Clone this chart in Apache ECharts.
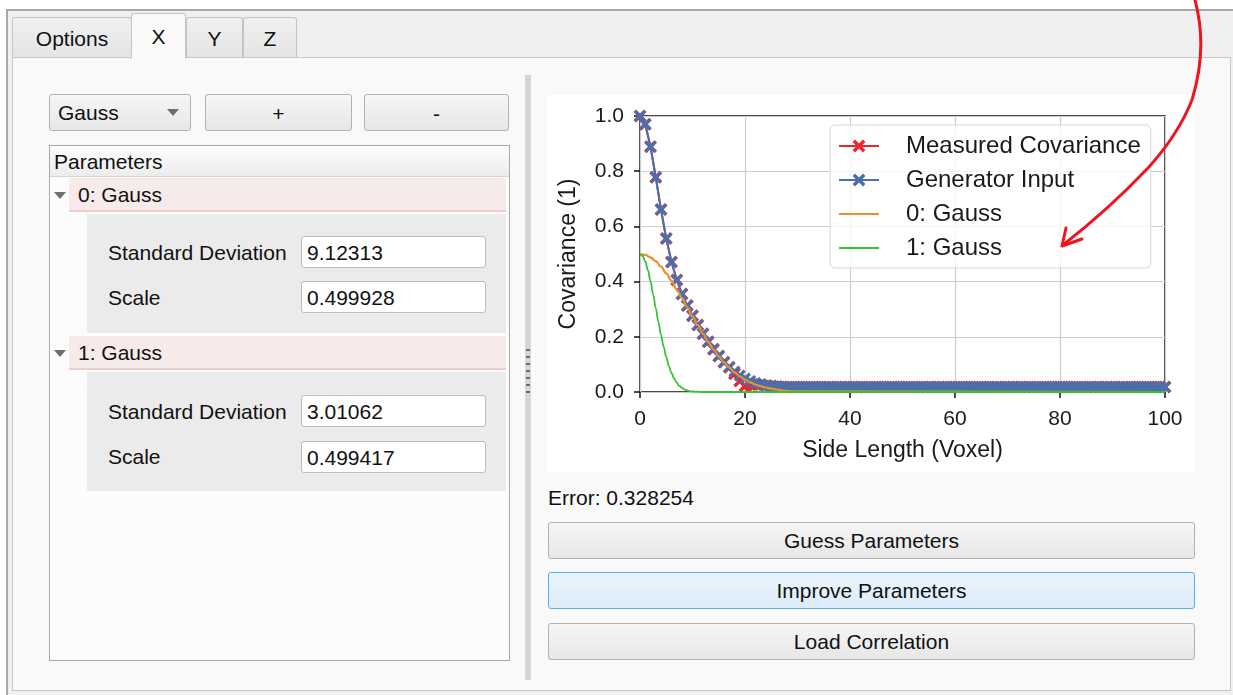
<!DOCTYPE html>
<html>
<head>
<meta charset="utf-8">
<script src="https://cdn.jsdelivr.net/npm/echarts@6.0.0/dist/echarts.min.js"></script>
<style>
  html, body { margin: 0; padding: 0; background: #fff; width: 1233px; height: 695px; overflow: hidden; }
  body { font-family: "Liberation Sans", Arial, sans-serif; font-size: 21px; color: #111; position: relative; }
  .abs { position: absolute; box-sizing: border-box; }
  .frame { left: 6px; top: 9px; width: 1240px; height: 700px; border-left: 2px solid #a8a8a8; border-top: 2px solid #a8a8a8; background: #f0f0f0; }
  .tab { top: 17px; height: 41px; border: 1px solid #c4c4c4; border-bottom: none; border-radius: 3px 3px 0 0;
         background: linear-gradient(#f0f0f0, #e4e4e4); text-align: center; line-height: 42px; }
  .tab.sel { top: 13px; height: 46px; background: #fafafa; line-height: 46px; z-index: 2; }
  .pane { left: 12px; top: 57px; width: 1219px; height: 634px; border: 1px solid #c8c8c8; background: #f9f9f9; }
  .btn { border: 1px solid #b2b2b2; border-radius: 3px; background: linear-gradient(#f6f6f6, #e7e7e7); text-align: center; }
  .tree { left: 49px; top: 145px; width: 461px; height: 516px; border: 1px solid #a9a9a9; background: #fcfcfc; }
  .hdr { left: 50px; top: 146px; width: 459px; height: 31px; background: linear-gradient(#fdfdfd, #ececec); border-bottom: 1px solid #d4d4d4; line-height: 31px; padding-left: 4px; }
  .row { left: 69px; width: 437px; height: 34px; background: #f6eaea; border-bottom: 2px solid #f3cccc; line-height: 33px; padding-left: 9px; }
  .tri { width: 0; height: 0; border-left: 6px solid transparent; border-right: 6px solid transparent; border-top: 7px solid #6e6e6e; }
  .sub { left: 87px; width: 419px; height: 119px; background: #ebebeb; }
  .lbl { left: 108px; height: 30px; line-height: 30px; }
  .inp { left: 301px; width: 185px; height: 32px; border: 1px solid #bcbcbc; border-radius: 3px; background: #fff; line-height: 31px; padding-left: 5px; }
  .split { left: 525px; top: 75px; width: 6px; height: 605px; background: #d6d6d6; }
  .grip { left: 526px; width: 4px; height: 2px; background: #6a6a6a; }
  #chart { position: absolute; left: 547px; top: 95px; width: 648px; height: 377px; background: #fff; }
  .big { left: 548px; width: 647px; height: 37px; line-height: 36px; }
  .focus { border-color: #58aef0; background: linear-gradient(#eaf4fc, #dcecf9); }
</style>
</head>
<body>
<div class="abs frame"></div>
<div class="abs tab" style="left:12px;width:120px;">Options</div>
<div class="abs tab sel" style="left:131px;width:55px;">X</div>
<div class="abs tab" style="left:186px;width:57px;">Y</div>
<div class="abs tab" style="left:243px;width:54px;">Z</div>
<div class="abs pane"></div>

<div class="abs btn" style="left:49px;top:94px;width:142px;height:37px;line-height:36px;text-align:left;padding-left:8px;">Gauss</div>
<div class="abs tri" style="left:167px;top:109px;"></div>
<div class="abs btn" style="left:205px;top:94px;width:147px;height:37px;line-height:38px;">+</div>
<div class="abs btn" style="left:364px;top:94px;width:145px;height:37px;line-height:38px;">-</div>

<div class="abs tree"></div>
<div class="abs hdr">Parameters</div>
<div class="abs tri" style="left:54px;top:192px;"></div>
<div class="abs row" style="top:178px;">0: Gauss</div>
<div class="abs sub" style="top:214px;"></div>
<div class="abs lbl" style="top:238px;">Standard Deviation</div>
<div class="abs inp" style="top:236px;">9.12313</div>
<div class="abs lbl" style="top:283px;">Scale</div>
<div class="abs inp" style="top:281px;">0.499928</div>
<div class="abs tri" style="left:54px;top:350px;"></div>
<div class="abs row" style="top:336px;">1: Gauss</div>
<div class="abs sub" style="top:372px;"></div>
<div class="abs lbl" style="top:397px;">Standard Deviation</div>
<div class="abs inp" style="top:395px;">3.01062</div>
<div class="abs lbl" style="top:442px;">Scale</div>
<div class="abs inp" style="top:441px;">0.499417</div>

<div class="abs split"></div>
<div class="abs grip" style="top:349px;"></div>
<div class="abs grip" style="top:356px;"></div>
<div class="abs grip" style="top:363px;"></div>
<div class="abs grip" style="top:370px;"></div>
<div class="abs grip" style="top:377px;"></div>
<div class="abs grip" style="top:384px;"></div>
<div class="abs grip" style="top:391px;"></div>

<div id="chart"></div>

<div class="abs" style="left:548px;top:484px;line-height:28px;">Error: 0.328254</div>
<div class="abs btn big" style="top:522px;">Guess Parameters</div>
<div class="abs btn big focus" style="top:572px;">Improve Parameters</div>
<div class="abs btn big" style="top:623px;">Load Correlation</div>

<svg class="abs" style="left:0;top:0;" width="1233" height="695">
  <path d="M1195,0 Q1208,48 1192,100 Q1178,135 1148,168 Q1108,210 1063,245" fill="none" stroke="#f0141e" stroke-width="3" stroke-linecap="round"/>
  <path d="M1066,228 L1062,246 L1082,239" fill="none" stroke="#f0141e" stroke-width="3" stroke-linecap="round" stroke-linejoin="round"/>
</svg>

<script>
(() => {
  // measured covariance, one value per voxel 0..100
  const measured = [
    1.000, 0.970, 0.889, 0.778, 0.661, 0.556, 0.471, 0.406, 0.355, 0.313,
    0.276, 0.243, 0.211, 0.182, 0.155, 0.130, 0.108, 0.090, 0.066, 0.040,
    0.022, 0.026, 0.028, 0.027, 0.024, 0.022, 0.020, 0.019, 0.018, 0.018,
    0.018, 0.018, 0.018, 0.018, 0.018, 0.018, 0.018, 0.018, 0.018, 0.018,
    0.018, 0.018, 0.018, 0.018, 0.018, 0.018, 0.018, 0.018, 0.018, 0.018,
    0.018, 0.018, 0.018, 0.018, 0.018, 0.018, 0.018, 0.018, 0.018, 0.018,
    0.018, 0.018, 0.018, 0.018, 0.018, 0.018, 0.018, 0.018, 0.018, 0.018,
    0.018, 0.018, 0.018, 0.018, 0.018, 0.018, 0.018, 0.018, 0.018, 0.018,
    0.018, 0.018, 0.018, 0.018, 0.018, 0.018, 0.018, 0.018, 0.018, 0.018,
    0.018, 0.018, 0.018, 0.018, 0.018, 0.018, 0.018, 0.018, 0.018, 0.018,
    0.018
  ];
  // generator input, one value per voxel 0..100
  const generator = [
    1.000, 0.970, 0.889, 0.778, 0.661, 0.556, 0.471, 0.406, 0.355, 0.313,
    0.276, 0.243, 0.211, 0.182, 0.155, 0.130, 0.108, 0.090, 0.074, 0.060,
    0.049, 0.040, 0.033, 0.028, 0.024, 0.022, 0.020, 0.019, 0.018, 0.018,
    0.018, 0.018, 0.018, 0.018, 0.018, 0.018, 0.018, 0.018, 0.018, 0.018,
    0.018, 0.018, 0.018, 0.018, 0.018, 0.018, 0.018, 0.018, 0.018, 0.018,
    0.018, 0.018, 0.018, 0.018, 0.018, 0.018, 0.018, 0.018, 0.018, 0.018,
    0.018, 0.018, 0.018, 0.018, 0.018, 0.018, 0.018, 0.018, 0.018, 0.018,
    0.018, 0.018, 0.018, 0.018, 0.018, 0.018, 0.018, 0.018, 0.018, 0.018,
    0.018, 0.018, 0.018, 0.018, 0.018, 0.018, 0.018, 0.018, 0.018, 0.018,
    0.018, 0.018, 0.018, 0.018, 0.018, 0.018, 0.018, 0.018, 0.018, 0.018,
    0.018
  ];
  // fitted component 0, sampled at curve0X
  const curve0X = [0, 1, 2, 3, 4, 5, 6, 7, 8, 9, 10, 11, 12, 13, 14, 15, 16, 17, 18, 19,
                   20, 21, 22, 23, 24, 25, 26, 27, 28, 29, 30, 100];
  const gauss0 = [0.500, 0.497, 0.488, 0.474, 0.454, 0.430, 0.403, 0.372, 0.340, 0.307,
                  0.274, 0.242, 0.211, 0.181, 0.154, 0.129, 0.107, 0.088, 0.071, 0.057,
                  0.045, 0.035, 0.027, 0.021, 0.016, 0.012, 0.009, 0.006, 0.004, 0.003,
                  0.002, 0.000];
  // fitted component 1, sampled at curve1X
  const curve1X = [0, 0.5, 1, 1.5, 2, 2.5, 3, 3.5, 4, 4.5, 5, 5.5, 6, 6.5, 7, 7.5, 8, 8.5,
                   9, 9.5, 10, 10.5, 11, 11.5, 12, 100];
  const gauss1 = [0.500, 0.493, 0.473, 0.442, 0.401, 0.354, 0.304, 0.254, 0.207, 0.164,
                  0.126, 0.094, 0.069, 0.049, 0.034, 0.022, 0.015, 0.009, 0.006, 0.003,
                  0.002, 0.001, 0.001, 0.000, 0.000, 0.000];
  const names = ['Measured Covariance', 'Generator Input', '0: Gauss', '1: Gauss'];
  const colors = ['#ea2630', '#4a6fab', '#ea902f', '#33c433'];

  const cross = 'path://M1.9,0 L5,3.1 L8.1,0 L10,1.9 L6.9,5 L10,8.1 L8.1,10 L5,6.9 L1.9,10 L0,8.1 L3.1,5 L0,1.9 Z';
  const lineIcon = 'path://M0,0 L40,0 L40,2.2 L0,2.2 Z';
  const txt = '#1a1a1a';

  let myChart = echarts.init(document.getElementById('chart'));

  let option = {
    animation: false,
    backgroundColor: '#ffffff',
    textStyle: { fontFamily: 'Liberation Sans, Arial, sans-serif' },
    grid: {
      left: 93, right: 30, top: 21, bottom: 80,
      show: true, borderColor: '#111', borderWidth: 1.5
    },
    legend: {
      orient: 'vertical',
      left: 283, top: 30,
      data: [
        { name: names[0] },
        { name: names[1] },
        { name: names[2], icon: lineIcon },
        { name: names[3], icon: lineIcon }
      ],
      itemWidth: 40, itemHeight: 16, itemGap: 10,
      padding: [9, 10, 8, 8],
      backgroundColor: 'rgba(255,255,255,0.8)',
      borderColor: '#d6d6d6', borderWidth: 1, borderRadius: 5,
      textStyle: { fontSize: 24, color: txt, padding: [0, 0, 0, 22] }
    },
    xAxis: {
      type: 'value', min: 0, max: 100, interval: 20,
      name: 'Side Length (Voxel)', nameLocation: 'middle', nameGap: 47,
      nameTextStyle: { fontSize: 23, color: txt },
      axisLine: { show: false },
      axisTick: { show: true, length: 6, lineStyle: { color: '#111', width: 1.5 } },
      axisLabel: { fontSize: 21, color: txt, margin: 17 },
      splitLine: { lineStyle: { color: '#cccccc', width: 1.2 } }
    },
    yAxis: {
      type: 'value', min: 0, max: 1, interval: 0.2,
      name: 'Covariance (1)', nameLocation: 'middle', nameGap: 60,
      nameTextStyle: { fontSize: 23, color: txt },
      axisLine: { show: false },
      axisTick: { show: true, length: 6, lineStyle: { color: '#111', width: 1.5 } },
      axisLabel: { fontSize: 21, color: txt, margin: 16, formatter: v => v.toFixed(1) },
      splitLine: { lineStyle: { color: '#cccccc', width: 1.2 } }
    },
    series: [
      {
        name: names[0], type: 'line', z: 2,
        data: measured.map((v, i) => [i, v]),
        symbol: cross, symbolSize: 13, showAllSymbol: true,
        itemStyle: { color: colors[0] },
        lineStyle: { color: colors[0], width: 2 }
      },
      {
        name: names[1], type: 'line', z: 3,
        data: generator.map((v, i) => [i, v]),
        symbol: cross, symbolSize: 12, showAllSymbol: true,
        itemStyle: { color: colors[1] },
        lineStyle: { color: colors[1], width: 2 }
      },
      {
        name: names[2], type: 'line', z: 4,
        data: gauss0.map((v, i) => [curve0X[i], v]),
        symbol: 'none', smooth: 0.4, smoothMonotone: 'x',
        lineStyle: { color: colors[2], width: 2.2 },
        itemStyle: { color: colors[2] }
      },
      {
        name: names[3], type: 'line', z: 4,
        data: gauss1.map((v, i) => [curve1X[i], v]),
        symbol: 'none', smooth: 0.4, smoothMonotone: 'x',
        lineStyle: { color: colors[3], width: 1.8 },
        itemStyle: { color: colors[3] }
      }
    ]
  };

  myChart.setOption(option);
})();
</script>
</body>
</html>
